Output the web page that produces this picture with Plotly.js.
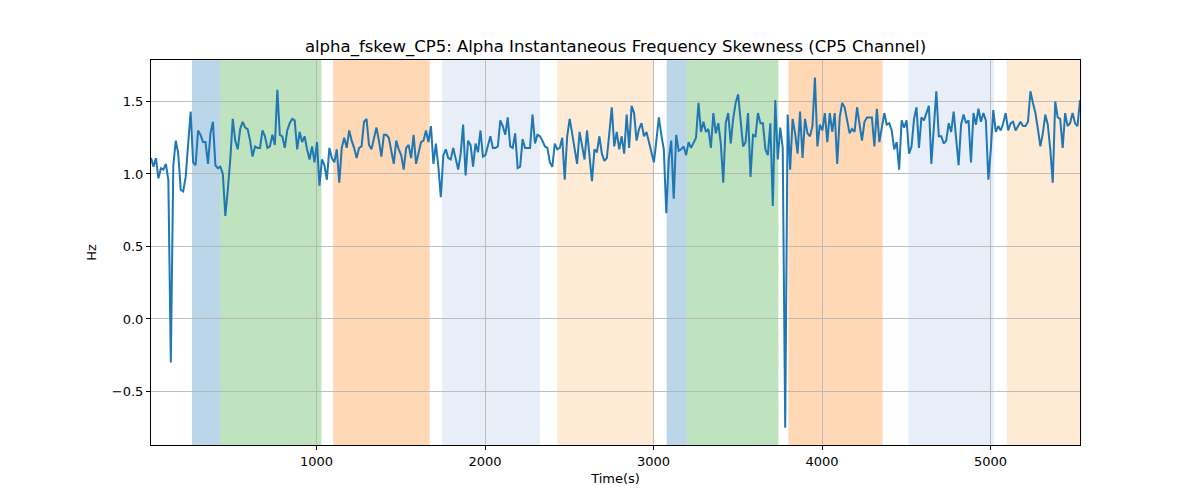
<!DOCTYPE html>
<html>
<head>
<meta charset="utf-8">
<script src="https://cdn.plot.ly/plotly-3.0.1.min.js"></script>
<style>
  html, body { margin: 0; padding: 0; background: #fff; }
  #chart { width: 1200px; height: 500px; }
</style>
</head>
<body>
<div id="chart"></div>
<script>
// ── data ─────────────────────────────────────────────────
// sampling grid of the skewness series (seconds)
const T_START = 18;
const T_STEP  = 14.7;

// alpha instantaneous-frequency skewness, CP5 (Hz)
const fskew = [
  1.11, 1.05, 1.11, 0.97, 1.04, 1.03, 1.07, 0.96, -0.30, 1.06,
  1.23, 1.14, 0.89, 0.88, 0.98, 1.23, 1.43, 1.08, 1.06, 1.30,
  1.27, 1.22, 1.22, 1.07, 1.28, 1.36, 1.06, 1.04, 1.05, 1.00,
  0.71, 0.89, 1.10, 1.38, 1.23, 1.17, 1.31, 1.36, 1.32, 1.31,
  1.23, 1.12, 1.19, 1.18, 1.18, 1.30, 1.26, 1.18, 1.19, 1.27,
  1.20, 1.58, 1.27, 1.26, 1.18, 1.30, 1.35, 1.38, 1.37, 1.17,
  1.29, 1.22, 1.26, 1.17, 1.10, 1.19, 1.08, 1.22, 0.92, 1.10,
  1.06, 0.96, 1.18, 1.11, 1.08, 1.17, 0.94, 1.18, 1.25, 1.18,
  1.30, 1.23, 1.18, 1.11, 1.18, 1.19, 1.36, 1.38, 1.20, 1.17,
  1.25, 1.32, 1.23, 1.12, 1.27, 1.27, 1.25, 1.17, 1.07, 1.23,
  1.17, 1.13, 1.03, 1.18, 1.20, 1.11, 1.27, 1.07, 1.15, 1.22,
  1.23, 1.30, 1.22, 1.33, 1.07, 1.21, 1.05, 0.84, 1.13, 1.17,
  1.11, 1.10, 1.18, 1.10, 1.03, 1.14, 1.34, 0.99, 1.23, 1.20,
  1.05, 1.21, 1.15, 1.30, 1.12, 1.13, 1.19, 1.26, 1.18, 1.18,
  1.19, 1.37, 1.33, 1.27, 1.39, 1.19, 1.18, 1.28, 1.04, 1.05,
  1.24, 1.18, 1.18, 1.18, 1.41, 1.21, 1.27, 1.26, 1.23, 1.19,
  1.18, 1.08, 1.05, 1.21, 1.17, 1.18, 1.25, 0.96, 1.26, 1.38,
  1.28, 1.17, 1.07, 1.29, 1.20, 1.10, 1.30, 1.13, 0.95, 1.17,
  1.15, 1.26, 1.14, 1.09, 1.11, 1.28, 1.46, 1.19, 1.29, 1.17,
  1.26, 1.14, 1.41, 1.18, 1.47, 1.42, 1.23, 1.31, 1.35, 1.26,
  1.29, 1.22, 1.14, 1.08, 1.23, 1.39, 1.27, 1.17, 0.73, 1.10,
  1.23, 0.83, 1.27, 1.16, 1.17, 1.19, 1.13, 1.22, 1.18, 1.21,
  1.25, 1.49, 1.29, 1.36, 1.29, 1.31, 1.18, 1.42, 1.28, 1.35,
  1.21, 0.94, 1.35, 1.42, 1.21, 1.38, 1.49, 1.55, 1.35, 1.19,
  1.22, 1.42, 0.98, 1.27, 1.26, 1.42, 1.35, 1.35, 1.17, 1.13,
  1.35, 0.78, 1.51, 1.10, 1.32, 1.18, -0.75, 1.41, 1.03, 1.38,
  1.28, 1.14, 1.43, 1.11, 1.38, 1.28, 1.26, 1.33, 1.665, 1.19,
  1.34, 1.30, 1.42, 1.22, 1.42, 1.29, 1.42, 1.07, 1.39, 1.49,
  1.46, 1.37, 1.28, 1.31, 1.29, 1.46, 1.33, 1.23, 1.36, 1.39,
  1.39, 1.39, 1.19, 1.45, 1.22, 1.31, 1.42, 1.34, 1.35, 1.30,
  1.17, 1.22, 1.03, 1.37, 1.32, 1.37, 1.14, 1.19, 1.38, 1.46,
  1.18, 1.39, 1.37, 1.42, 1.47, 1.07, 1.31, 1.57, 1.26, 1.26,
  1.21, 1.23, 1.35, 1.29, 1.43, 1.25, 1.06, 1.34, 1.41, 1.35,
  1.37, 1.08, 1.42, 1.34, 1.45, 1.36, 1.42, 1.37, 0.96, 1.17,
  1.44, 1.29, 1.33, 1.30, 1.35, 1.42, 1.30, 1.35, 1.36, 1.30,
  1.33, 1.36, 1.33, 1.33, 1.36, 1.57, 1.49, 1.42, 1.31, 1.19,
  1.28, 1.41, 1.34, 1.17, 0.94, 1.50, 1.39, 1.38, 1.18, 1.42,
  1.33, 1.35, 1.42, 1.35, 1.33, 1.51
];

// shaded segments (seconds) and their kind
const bandStart = [261, 429, 1099, 1746, 2428, 3078, 3197, 3800, 4513, 5095];
const bandEnd   = [429, 1029, 1672, 2326, 3003, 3197, 3741, 4359, 5020, 5600];
const bandKind  = ['blue', 'green', 'orange', 'lightblue', 'lightorange',
                   'blue', 'green', 'orange', 'lightblue', 'lightorange'];

const xTicks = [1000, 2000, 3000, 4000, 5000];
const yTicks = [-0.5, 0.0, 0.5, 1.0, 1.5];

// ── plot ─────────────────────────────────────────────────
const BAND_COLORS = {
  blue:        'rgba(31,119,180,0.3)',
  green:       'rgba(44,160,44,0.3)',
  orange:      'rgba(255,127,14,0.3)',
  lightblue:   'rgba(174,199,232,0.3)',
  lightorange: 'rgba(255,187,120,0.3)',
};

const times = fskew.map((_, i) => T_START + i * T_STEP);
const X_MIN = times[0];
const X_MAX = times[times.length - 1];

const shapes = bandStart.map((s, i) => ({
  type: 'rect', xref: 'x', yref: 'paper',
  x0: s, x1: bandEnd[i], y0: 0, y1: 1,
  fillcolor: BAND_COLORS[bandKind[i]],
  line: { width: 0 },
  layer: 'below',
}));

const trace = {
  type: 'scatter', mode: 'lines',
  x: times, y: fskew,
  line: { color: '#1f77b4', width: 2 },
  hoverinfo: 'x+y',
};

const axisBase = {
  showline: true, mirror: true, linecolor: '#000', linewidth: 1,
  ticks: 'outside', ticklen: 4, tickwidth: 1, tickcolor: '#000',
  showgrid: true, gridcolor: '#b0b0b0', gridwidth: 0.8,
  zeroline: false,
  tickfont: { size: 13, color: '#000' },
};

const layout = {
  width: 1200, height: 500,
  margin: { l: 151, r: 120, t: 60, b: 55 },
  paper_bgcolor: '#fff', plot_bgcolor: '#fff',
  font: { family: 'DejaVu Sans, sans-serif', color: '#000' },
  title: {
    text: 'alpha_fskew_CP5: Alpha Instantaneous Frequency Skewness (CP5 Channel)',
    font: { size: 16.5 }, xref: 'paper', x: 0.5, xanchor: 'center', y: 0.908, yanchor: 'middle',
  },
  showlegend: false,
  xaxis: {
    ...axisBase,
    range: [X_MIN, X_MAX],
    tickvals: xTicks, ticktext: xTicks.map(String),
    title: { text: 'Time(s)', font: { size: 13 }, standoff: 6 },
  },
  yaxis: {
    ...axisBase,
    range: [-0.869, 1.786],
    tickvals: yTicks, ticktext: yTicks.map(v => v < 0 ? '\u2212' + Math.abs(v).toFixed(1) : v.toFixed(1)),
    title: { text: 'Hz', font: { size: 13 }, standoff: 12 },
  },
  shapes,
};

Plotly.newPlot('chart', [trace], layout, { displayModeBar: false, staticPlot: true });
</script>
</body>
</html>
